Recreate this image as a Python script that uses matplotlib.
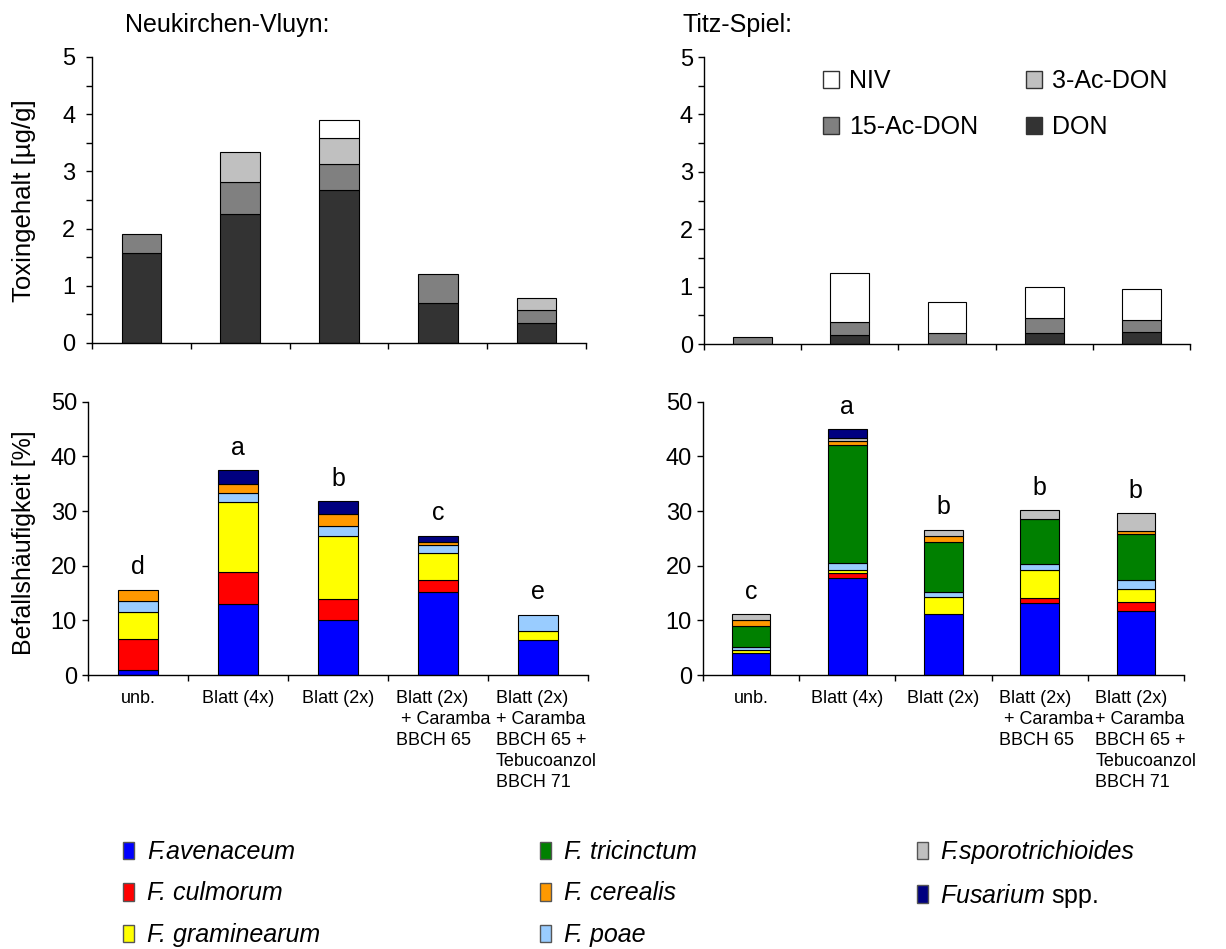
import numpy as np
import matplotlib
matplotlib.use("Agg")
import matplotlib.pyplot as plt
from matplotlib.patches import Patch

plt.rcParams["font.family"] = ["Liberation Sans", "DejaVu Sans"]
plt.rcParams["mathtext.fontset"] = "custom"
plt.rcParams["mathtext.rm"] = "Liberation Sans"
plt.rcParams["mathtext.it"] = "Liberation Sans:italic"

# Behandlungen
categories = [
    "unb.",
    "Blatt (4x)",
    "Blatt (2x)",
    "Blatt (2x)\n + Caramba\nBBCH 65",
    "Blatt (2x)\n+ Caramba\nBBCH 65 +\nTebucoanzol\nBBCH 71",
]

# Toxingehalt [µg/g], Neukirchen-Vluyn
don_nv = [1.58, 2.26, 2.67, 0.69, 0.355]
ac15_nv = [0.32, 0.55, 0.46, 0.51, 0.225]
ac3_nv = [0.0, 0.53, 0.46, 0.0, 0.205]
niv_nv = [0.0, 0.0, 0.30, 0.0, 0.0]

# Toxingehalt [µg/g], Titz-Spiel
don_tz = [0.0, 0.16, 0.0, 0.19, 0.21]
ac15_tz = [0.12, 0.23, 0.19, 0.26, 0.21]
ac3_tz = [0.0, 0.0, 0.0, 0.0, 0.0]
niv_tz = [0.0, 0.84, 0.55, 0.55, 0.54]

# Befallshäufigkeit [%], Neukirchen-Vluyn
aven_nv = [1.0, 13.06, 10.0, 15.25, 6.4]
culm_nv = [5.56, 5.74, 3.9, 2.15, 0.0]
gram_nv = [4.94, 12.9, 11.6, 4.9, 1.7]
poae_nv = [2.0, 1.6, 1.8, 1.5, 2.96]
tric_nv = [0.0, 0.0, 0.0, 0.0, 0.0]
cere_nv = [2.1, 1.6, 2.1, 0.6, 0.0]
spor_nv = [0.0, 0.0, 0.0, 0.0, 0.0]
spp_nv = [0.0, 2.6, 2.4, 1.1, 0.0]
letters_nv = ["d", "a", "b", "c", "e"]

# Befallshäufigkeit [%], Titz-Spiel
aven_tz = [4.1, 17.7, 11.1, 13.1, 11.65]
culm_tz = [0.0, 0.95, 0.0, 1.05, 1.65]
gram_tz = [0.4, 0.5, 3.1, 5.15, 2.5]
poae_tz = [0.6, 1.4, 0.9, 1.0, 1.5]
tric_tz = [3.9, 21.45, 9.2, 8.2, 8.5]
cere_tz = [1.0, 0.9, 1.2, 0.0, 0.6]
spor_tz = [1.1, 0.5, 1.1, 1.6, 3.2]
spp_tz = [0.0, 1.6, 0.0, 0.0, 0.0]
letters_tz = ["c", "a", "b", "b", "b"]

tox_names = ["DON", "15-Ac-DON", "3-Ac-DON", "NIV"]
tox_colors = ["#333333", "#808080", "#c0c0c0", "#ffffff"]

# Stapelreihenfolge von unten nach oben
fus_names = ["F.avenaceum", "F. culmorum", "F. graminearum", "F. poae", "F. tricinctum",
             "F. cerealis", "F.sporotrichioides", r"Fusarium $\mathrm{spp.}$"]
fus_colors = ["#0000ff", "#ff0000", "#ffff00", "#99ccff", "#008000", "#ff9900", "#c0c0c0", "#000080"]
legend_order = [0, 1, 2, 4, 5, 3, 6, 7]

x = np.arange(len(categories))
bw = 0.4


def stacked(ax, series, colors):
    bottom = np.zeros(len(x))
    for vals, c in zip(series, colors):
        vals = np.array(vals)
        m = vals > 0
        ax.bar(x[m], vals[m], bw, bottom=bottom[m], color=c, edgecolor="black", linewidth=0.8, zorder=2)
        bottom += vals
    return bottom


def style(ax, top, step, minor=None, pad=4):
    ax.set_xlim(-0.5, len(x) - 0.5)
    ax.set_ylim(0, top)
    for s in ["top", "right"]:
        ax.spines[s].set_visible(False)
    ax.spines["left"].set_linewidth(1.0)
    ax.spines["bottom"].set_linewidth(1.0)
    ax.set_yticks(np.arange(0, top + step / 2, step))
    if minor:
        ax.set_yticks(np.arange(0, top + minor / 2, minor), minor=True)
        ax.tick_params(axis="y", which="minor", length=4, width=1)
    ax.set_xticks(np.arange(-0.5, len(x), 1.0))
    ax.set_xticklabels([])
    ax.tick_params(axis="y", which="major", length=4, width=1, labelsize=17, pad=pad)
    ax.tick_params(axis="x", length=4, width=1)


fig = plt.figure(figsize=(12.26, 9.49), dpi=100)
ax_tl = fig.add_axes([0.0750, 0.6386, 0.403, 0.3014])
ax_tr = fig.add_axes([0.5742, 0.6375, 0.3964, 0.3024])
ax_bl = fig.add_axes([0.0718, 0.2887, 0.4078, 0.2880])
ax_br = fig.add_axes([0.5734, 0.2887, 0.3923, 0.2880])

stacked(ax_tl, [don_nv, ac15_nv, ac3_nv, niv_nv], tox_colors)
stacked(ax_tr, [don_tz, ac15_tz, ac3_tz, niv_tz], tox_colors)
tot_nv = stacked(ax_bl, [aven_nv, culm_nv, gram_nv, poae_nv, tric_nv, cere_nv, spor_nv, spp_nv], fus_colors)
tot_tz = stacked(ax_br, [aven_tz, culm_tz, gram_tz, poae_tz, tric_tz, cere_tz, spor_tz, spp_tz], fus_colors)

style(ax_tl, 5, 1, 0.5, pad=8)
style(ax_tr, 5, 1, 0.5)
for ax in (ax_bl, ax_br):
    style(ax, 50, 10)

# Signifikanzbuchstaben und Achsenbeschriftung der Behandlungen
for ax, tot, letters in ((ax_bl, tot_nv, letters_nv), (ax_br, tot_tz, letters_tz)):
    for i, t in enumerate(letters):
        ax.text(x[i], tot[i] + 2.8, t, ha="center", va="baseline", fontsize=18)
    for i, lab in enumerate(categories):
        if "\n" in lab:
            ax.annotate(lab, xy=(x[i] - 0.42, 0), xycoords=("data", "axes fraction"),
                        xytext=(0, -11), textcoords="offset points",
                        ha="left", va="top", fontsize=13, linespacing=1.3)
        else:
            ax.annotate(lab, xy=(x[i], 0), xycoords=("data", "axes fraction"),
                        xytext=(0, -11), textcoords="offset points",
                        ha="center", va="top", fontsize=13)

fig.text(0.102, 0.9737, "Neukirchen-Vluyn:", fontsize=18, va="center")
fig.text(0.557, 0.9737, "Titz-Spiel:", fontsize=18, va="center")
fig.text(0.0196, 0.789, "Toxingehalt [µg/g]", fontsize=18.5, rotation=90, ha="center", va="center")
fig.text(0.0196, 0.428, "Befallshäufigkeit [%]", fontsize=18, rotation=90, ha="center", va="center")

# Legende Toxine
tox_handles = [Patch(facecolor=tox_colors[i], edgecolor="#333333", linewidth=1) for i in (3, 1, 2, 0)]
tox_labels = [tox_names[i] for i in (3, 1, 2, 0)]
ax_tr.legend(tox_handles, tox_labels, loc="upper left", bbox_to_anchor=(823 / 1226, 1 - 69 / 949),
             bbox_transform=fig.transFigure, ncol=2, frameon=False, fontsize=18,
             handlelength=0.65, handleheight=0.65, handletextpad=0.4,
             columnspacing=1.9, labelspacing=0.88, borderpad=0, borderaxespad=0)

# Legende Fusarium-Arten
fus_handles = [Patch(facecolor=fus_colors[i], edgecolor="#555555", linewidth=1) for i in legend_order]
fus_labels = [fus_names[i] for i in legend_order]
fig.legend(fus_handles, fus_labels, loc="upper left", bbox_to_anchor=(123 / 1226, 1 - 840 / 949),
           ncol=3, frameon=False, prop={"size": 18, "style": "italic"},
           handlelength=0.45, handleheight=0.7, handletextpad=0.5, columnspacing=8.8,
           labelspacing=0.7, borderpad=0, borderaxespad=0)

fig.savefig("out.png", dpi=100)
